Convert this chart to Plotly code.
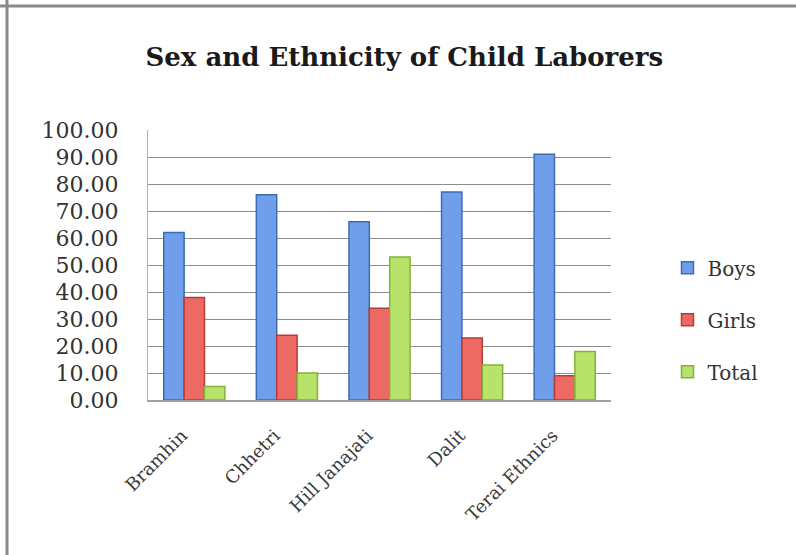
import plotly.graph_objects as go

categories = ["Bramhin", "Chhetri", "Hill Janajati", "Dalit", "Terai Ethnics"]
boys = [62, 76, 66, 77, 91]
girls = [38, 24, 34, 23, 9]
total = [5, 10, 53, 13, 18]
y_ticks = [0, 10, 20, 30, 40, 50, 60, 70, 80, 90, 100]

serif = "DejaVu Serif"
fig = go.Figure()
series = [
    ("Boys", boys, "#6f9fea", "#3c6cb4"),
    ("Girls", girls, "#ec6a63", "#b53c38"),
    ("Total", total, "#b8e36a", "#86b03c"),
]
for i, (name, vals, fill, line) in enumerate(series):
    fig.add_trace(go.Bar(
        x=categories, y=vals, name=name, legendgroup=name,
        marker=dict(color=fill, line=dict(color=line, width=1.5)),
    ))

H = 270
pad = "\u00a0\u00a0\u00a0"
fig.update_layout(
    width=796, height=555,
    margin=dict(l=148, r=185, t=130, b=155),
    paper_bgcolor="white", plot_bgcolor="white",
    barmode="group", bargap=0.34, bargroupgap=0.0,
    title=dict(text="<b>Sex and Ethnicity of Child Laborers</b>",
               x=0.508, xanchor="center", y=0.897, yanchor="middle",
               font=dict(family=serif, size=26, color="#1a1a1a")),
    font=dict(family=serif, color="#333333"),
    legend=dict(x=1.122, xanchor="left", y=0.297, yanchor="middle",
                font=dict(family=serif, size=20, color="#333333"),
                tracegroupgap=23, itemwidth=30, bgcolor="rgba(0,0,0,0)"),
    xaxis=dict(tickangle=-45, tickfont=dict(family=serif, size=18, color="#3a3a3a"),
               tickvals=categories, ticktext=[c + pad for c in categories],
               showline=True, linecolor="#a0a0a0", linewidth=1.5, ticks="",
               ticklabelstandoff=4),
    yaxis=dict(range=[0, 100], tickvals=y_ticks, tickformat=".2f",
               tickfont=dict(family=serif, size=22, color="#333333"),
               showgrid=True, gridcolor="#8c8c8c", gridwidth=1.2,
               showline=True, linecolor="#b0b0b0", linewidth=1.2,
               ticks="", ticklabelstandoff=24, zeroline=False),
)
fig.add_shape(type="line", xref="paper", yref="paper", x0=-0.4, x1=1.4, y0=1.0 + 124/H, y1=1.0 + 124/H,
              line=dict(color="#8a8a8a", width=3))
fig.add_shape(type="line", xref="paper", yref="paper", x0=-141/463, x1=-141/463, y0=-1.0, y1=1.6,
              line=dict(color="#8a8a8a", width=3))
fig.write_html("out.html")
